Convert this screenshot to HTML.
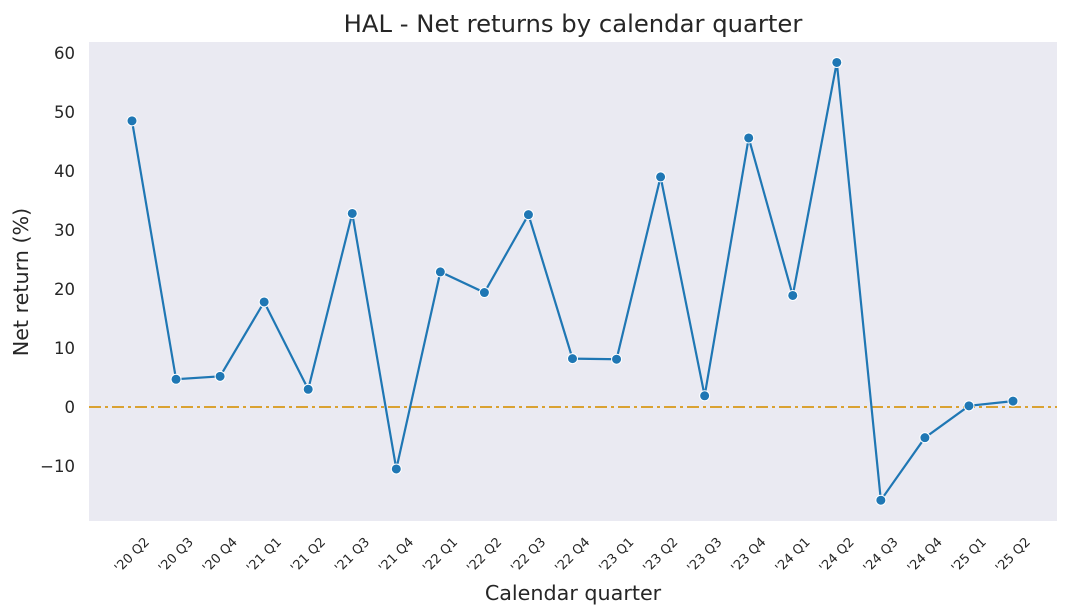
<!DOCTYPE html>
<html><head><meta charset="utf-8"><style>body{margin:0;background:#fff}svg{display:block;font-family:"DejaVu Sans","Liberation Sans",sans-serif}</style></head>
<body>
<svg id="chart" width="1069" height="616">
<rect x="89" y="42" width="968" height="479" fill="#eaeaf2"/>
<text x="573" y="32" text-anchor="middle" font-size="24.3" fill="#262626">HAL - Net returns by calendar quarter</text>
<text x="573" y="600" text-anchor="middle" font-size="20.7" fill="#262626">Calendar quarter</text>
<text transform="translate(28,282) rotate(-90)" text-anchor="middle" font-size="20.7" fill="#262626">Net return (%)</text>
<g id="yt"></g><g id="xt"></g><g id="marks"></g>
</svg>
<script>
const categories=["'20 Q2","'20 Q3","'20 Q4","'21 Q1","'21 Q2","'21 Q3","'21 Q4","'22 Q1","'22 Q2","'22 Q3","'22 Q4","'23 Q1","'23 Q2","'23 Q3","'23 Q4","'24 Q1","'24 Q2","'24 Q3","'24 Q4","'25 Q1","'25 Q2"];
const returns=[48.5,4.7,5.2,17.8,3.0,32.8,-10.5,22.9,19.4,32.6,8.2,8.1,39.0,1.9,45.6,18.9,58.4,-15.8,-5.2,0.2,1.0];
const yTicks=[-10,0,10,20,30,40,50,60];
const NS="http://www.w3.org/2000/svg";
function xs(i){return 132+i*(1013-132)/(categories.length-1);}
function ys(v){return 407-v*5.9;}
function mk(tag,attrs,parent){const e=document.createElementNS(NS,tag);for(const k in attrs)e.setAttribute(k,attrs[k]);document.getElementById(parent).appendChild(e);return e;}
yTicks.forEach(v=>{const t=mk('text',{x:75,y:ys(v)+6,'text-anchor':'end','font-size':16.5,fill:'#262626'},'yt');


t.textContent=v<0?'\u2212'+Math.abs(v):v;});
categories.forEach((c,i)=>{const x=xs(i);const t=mk('text',{x:x,y:559,'text-anchor':'middle','font-size':13,fill:'#262626',transform:`rotate(-45 ${x} 555)`},'xt');


t.textContent=c;});
const zl=mk('line',{x1:89,x2:1057,y1:ys(0),y2:ys(0),stroke:'#daa232','stroke-width':2,'stroke-dasharray':'12 4 3 4'},'marks');


const pl=mk('polyline',{points:returns.map((v,i)=>xs(i)+','+ys(v)).join(' '),fill:'none',stroke:'#1f77b4','stroke-width':2.2},'marks');


returns.forEach((v,i)=>{const c=mk('circle',{cx:xs(i),cy:ys(v),r:5,fill:'#1f77b4',stroke:'#fff','stroke-width':1},'marks');

});
</script>
</body></html>
